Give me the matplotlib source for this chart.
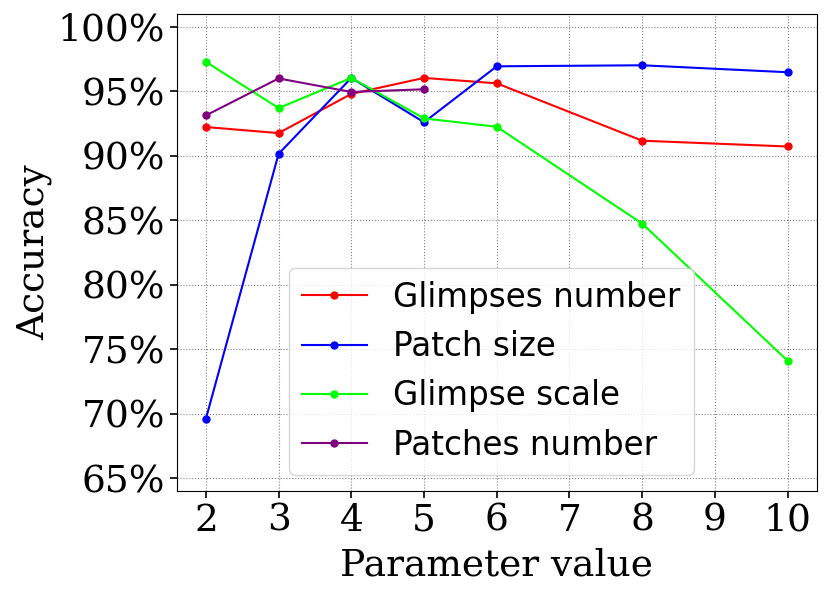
import numpy as np
import matplotlib
matplotlib.use('Agg')
import matplotlib.pyplot as plt
from matplotlib.ticker import PercentFormatter

# Accuracy values (fractions)
glimpses_x = [2, 3, 4, 5, 6, 8, 10]
glimpses_acc = [0.9223, 0.9176, 0.9480, 0.9604, 0.9562, 0.9117, 0.9072]

patch_x = [2, 3, 4, 5, 6, 8, 10]
patch_acc = [0.6960, 0.9015, 0.9604, 0.9260, 0.9694, 0.9702, 0.9648]

scale_x = [2, 3, 4, 5, 6, 8, 10]
scale_acc = [0.9729, 0.9370, 0.9604, 0.9290, 0.9225, 0.8474, 0.7410]

patches_x = [2, 3, 4, 5]
patches_acc = [0.9313, 0.9600, 0.9495, 0.9516]

fig = plt.figure(figsize=(8.3, 5.97), dpi=100)
ax = fig.add_axes([0.213, 0.1776, 0.771, 0.799])

ax.plot(glimpses_x, glimpses_acc, color='red', marker='o', markersize=5, lw=1.5, label='Glimpses number')
ax.plot(patch_x, patch_acc, color='blue', marker='o', markersize=5, lw=1.5, label='Patch size')
ax.plot(scale_x, scale_acc, color='lime', marker='o', markersize=5, lw=1.5, label='Glimpse scale')
ax.plot(patches_x, patches_acc, color='purple', marker='o', markersize=5, lw=1.5, label='Patches number')

ax.set_ylim(0.64, 1.01)
ax.set_yticks(np.arange(0.65, 1.001, 0.05))
ax.yaxis.set_major_formatter(PercentFormatter(1.0, decimals=0))
ax.set_xticks(range(2, 11))
ax.tick_params(labelsize=27, width=1.2, length=5)
for lab in ax.get_xticklabels() + ax.get_yticklabels():
    lab.set_fontfamily('DejaVu Serif')

ax.set_xlabel('Parameter value', fontsize=27, fontfamily='DejaVu Serif', labelpad=6)
ax.set_ylabel('Accuracy', fontsize=27, fontfamily='DejaVu Serif', labelpad=4)
ax.grid(True, linestyle=':', color='gray', lw=0.8)

ax.legend(fontsize=23.5, loc='lower left', bbox_to_anchor=(0.175, 0.034), borderaxespad=0)

fig.savefig('out.png', dpi=100)
